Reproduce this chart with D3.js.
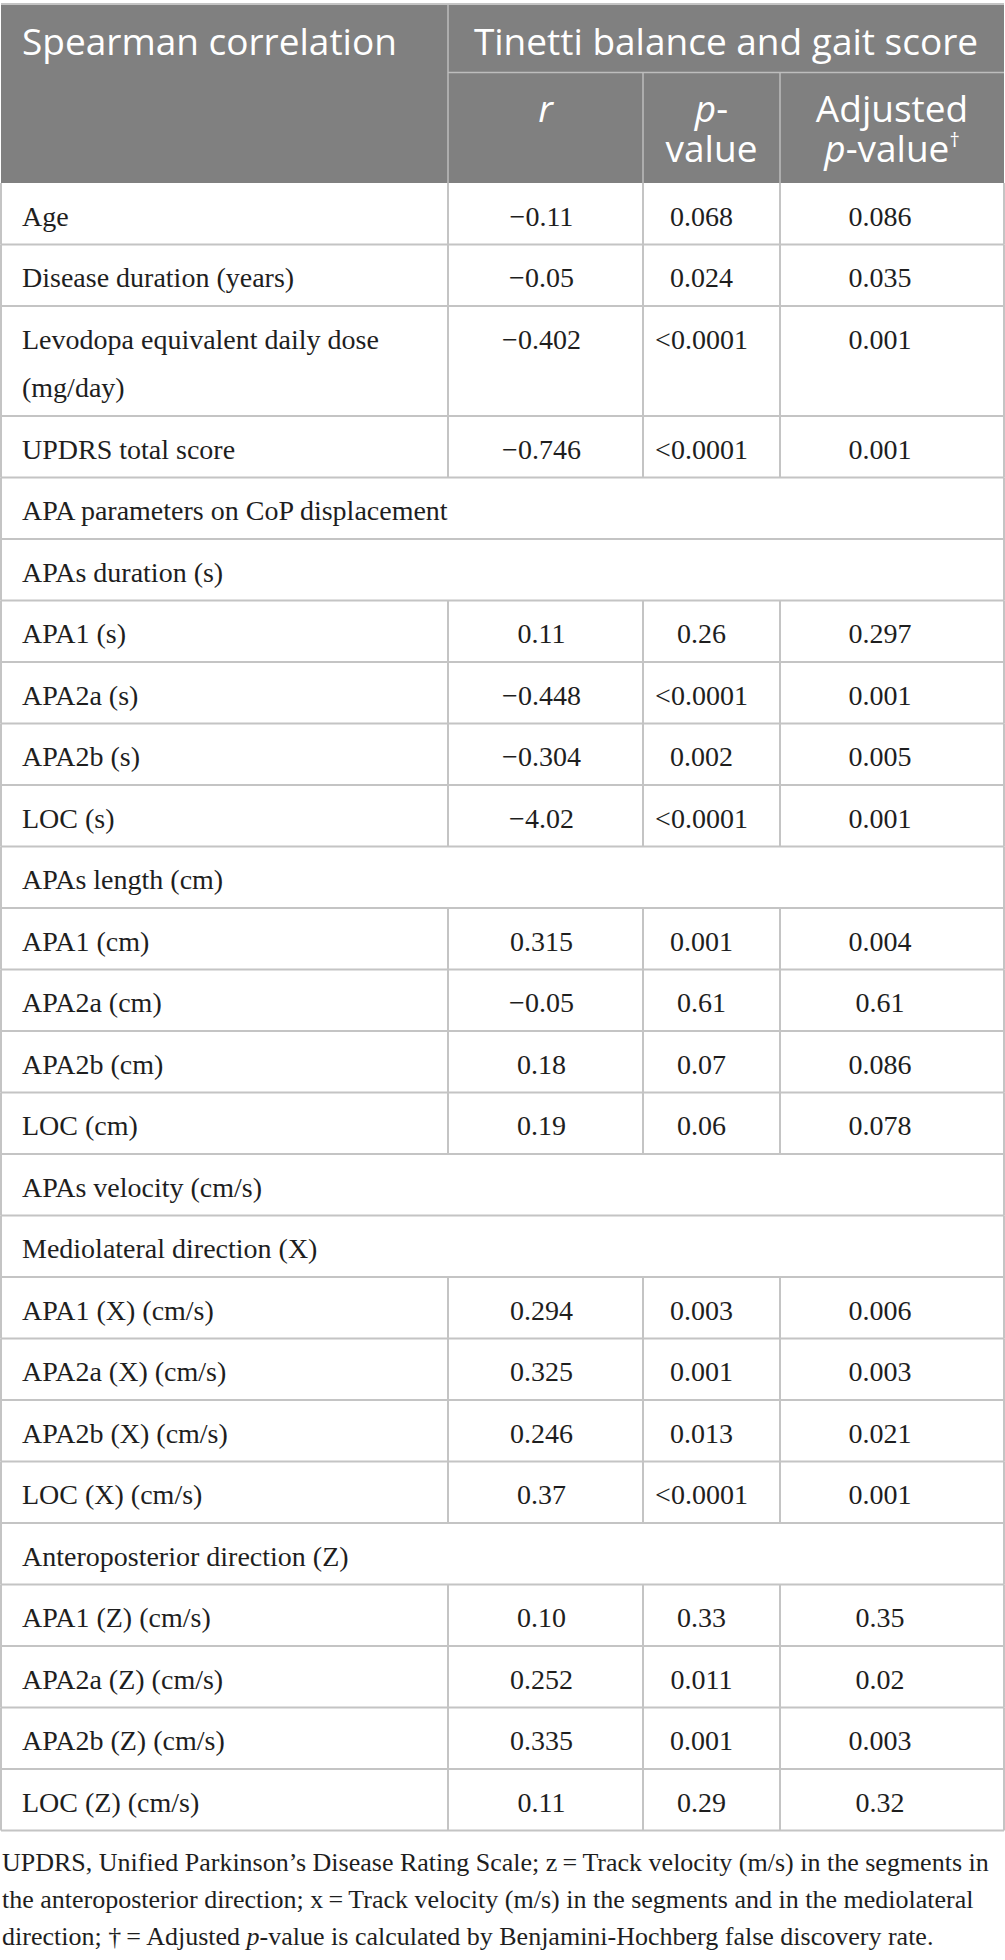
<!DOCTYPE html>
<html>
<head>
<meta charset="utf-8">
<script src="https://cdn.jsdelivr.net/npm/d3@7"></script>
<style>
  html, body { margin: 0; padding: 0; background: #fff; }
  svg { display: block; }
</style>
</head>
<body>
<div id="chart"></div>
<script>
// table content
const headTop = ["Spearman correlation", "Tinetti balance and gait score"];
const headSub = [["_r_"], ["_p_-", "value"], ["Adjusted", "_p_-value^†^"]];

const rowLabels = [
    "Age", "Disease duration (years)", "Levodopa equivalent daily dose (mg/day)", "UPDRS total score",
    "APA parameters on CoP displacement", "APAs duration (s)",
    "APA1 (s)", "APA2a (s)", "APA2b (s)", "LOC (s)",
    "APAs length (cm)",
    "APA1 (cm)", "APA2a (cm)", "APA2b (cm)", "LOC (cm)",
    "APAs velocity (cm/s)", "Mediolateral direction (X)",
    "APA1 (X) (cm/s)", "APA2a (X) (cm/s)", "APA2b (X) (cm/s)", "LOC (X) (cm/s)",
    "Anteroposterior direction (Z)",
    "APA1 (Z) (cm/s)", "APA2a (Z) (cm/s)", "APA2b (Z) (cm/s)", "LOC (Z) (cm/s)"];
// null = section row spanning the whole table
const rValues = [
    "\u22120.11", "\u22120.05", "\u22120.402", "\u22120.746",
    null, null,
    "0.11", "\u22120.448", "\u22120.304", "\u22124.02",
    null,
    "0.315", "\u22120.05", "0.18", "0.19",
    null, null,
    "0.294", "0.325", "0.246", "0.37",
    null,
    "0.10", "0.252", "0.335", "0.11"];
const pValues = [
    "0.068", "0.024", "<0.0001", "<0.0001",
    null, null,
    "0.26", "<0.0001", "0.002", "<0.0001",
    null,
    "0.001", "0.61", "0.07", "0.06",
    null, null,
    "0.003", "0.001", "0.013", "<0.0001",
    null,
    "0.33", "0.011", "0.001", "0.29"];
const adjValues = [
    "0.086", "0.035", "0.001", "0.001",
    null, null,
    "0.297", "0.001", "0.005", "0.001",
    null,
    "0.004", "0.61", "0.086", "0.078",
    null, null,
    "0.006", "0.003", "0.021", "0.001",
    null,
    "0.35", "0.02", "0.003", "0.32"];

const footLines = [
    "UPDRS, Unified Parkinson\u2019s Disease Rating Scale; z\u2009=\u2009Track velocity (m/s) in the segments in",
    "the anteroposterior direction; x\u2009=\u2009Track velocity (m/s) in the segments and in the mediolateral",
    "direction; \u2020\u2009=\u2009Adjusted _p_-value is calculated by Benjamini-Hochberg false discovery rate."];

// layout
const W = 1005, H = 1960;
const colKeys = ["label", "r", "p", "adj"];
const colEdges = [1, 448, 643, 780, 1004];
const valueNudge = [0, -4, -10, -12];
const serif = "'Liberation Serif', 'DejaVu Serif', serif";
const sans = "'Open Sans', 'Noto Sans', sans-serif";
const headFill = "#808080", lineCol = "#c4c4c4", headLine = "#bdbdbd", ink = "#1e1e1e";

const tableTop = 4, headMid = 72.5, headBottom = 183;
const rowBase = 61.5, lineStep = 48.5, firstBase = 42.5, bodySize = 28;

const xLeft = d3.scaleOrdinal().domain(colKeys).range(colEdges.slice(0, 4));
const xRight = d3.scaleOrdinal().domain(colKeys).range(colEdges.slice(1));
const xMid = k => (xLeft(k) + xRight(k)) / 2;

const svg = d3.select("#chart").append("svg")
    .attr("width", W).attr("height", H)
    .attr("viewBox", [0, 0, W, H]);

// write "_italic_" and "^sup^" pieces as tspans
function rich(textSel, str) {
    str.split(/(_[^_]+_|\^[^^]+\^)/).filter(s => s.length).forEach(s => {
        const t = textSel.append("tspan");
        if (s[0] === "_") t.attr("font-style", "italic").text(s.slice(1, -1));
        else if (s[0] === "^") t.attr("font-size", "0.55em").attr("dy", "-0.75em").text(s.slice(1, -1));
        else t.text(s);
    });
}

// wrap labels to the first column
const measure = svg.append("text").attr("font-family", serif).attr("font-size", bodySize);
const labelWidth = colEdges[1] - colEdges[0] - 44;
function wrap(str, full) {
    if (full) return [str];
    const words = str.split(" ");
    const lines = [];
    let cur = "";
    words.forEach(w => {
        const test = cur ? cur + " " + w : w;
        measure.text(test);
        if (cur && measure.node().getComputedTextLength() > labelWidth) {
            lines.push(cur);
            cur = w;
        } else cur = test;
    });
    lines.push(cur);
    return lines;
}

const rows = rowLabels.map((label, i) => {
    const section = rValues[i] === null;
    return {label, section, lines: wrap(label, section), vals: [rValues[i], pValues[i], adjValues[i]]};
});
measure.remove();

const heights = rows.map(d => rowBase + (d.lines.length - 1) * lineStep);
const tops = [headBottom, ...d3.cumsum(heights).map(v => headBottom + v)];
const yTop = d3.scaleOrdinal().domain(d3.range(tops.length)).range(tops);
const tableBottom = yTop(rows.length);

// header
svg.append("rect")
    .attr("x", colEdges[0]).attr("y", tableTop)
    .attr("width", colEdges[4] - colEdges[0]).attr("height", headBottom - tableTop)
    .attr("fill", headFill);

const hl = svg.append("g").attr("stroke", headLine).attr("stroke-width", 1.5);
hl.append("line").attr("x1", xRight("label")).attr("x2", xRight("label")).attr("y1", tableTop).attr("y2", headBottom);
hl.append("line").attr("x1", xLeft("r")).attr("x2", xRight("adj")).attr("y1", headMid).attr("y2", headMid);
["r", "p"].forEach(k => {
    hl.append("line").attr("x1", xRight(k)).attr("x2", xRight(k)).attr("y1", headMid).attr("y2", headBottom);
});

const ht = svg.append("g").attr("font-family", sans).attr("font-size", 37).attr("fill", "#fff");
ht.append("text").attr("x", xLeft("label") + 21).attr("y", tableTop + 51).text(headTop[0]);
ht.append("text").attr("x", (xLeft("r") + xRight("adj")) / 2).attr("y", tableTop + 51)
    .attr("text-anchor", "middle").text(headTop[1]);
headSub.forEach((lines, j) => {
    const k = colKeys[j + 1];
    lines.forEach((ln, li) => {
        const t = ht.append("text").attr("x", xMid(k)).attr("y", headMid + 49.5 + li * 40)
            .attr("text-anchor", "middle");
        rich(t, ln);
    });
});

// body grid
const grid = svg.append("g").attr("stroke", lineCol).attr("stroke-width", 2);
rows.forEach((d, i) => {
    grid.append("line").attr("x1", colEdges[0]).attr("x2", colEdges[4])
        .attr("y1", yTop(i + 1)).attr("y2", yTop(i + 1));
    const edges = d.section ? [colEdges[0], colEdges[4]] : colEdges;
    edges.forEach(x => {
        grid.append("line").attr("x1", x).attr("x2", x).attr("y1", yTop(i)).attr("y2", yTop(i + 1));
    });
});
grid.append("line").attr("x1", colEdges[0]).attr("x2", colEdges[4]).attr("y1", tableTop).attr("y2", tableTop);

// body text
const body = svg.append("g").attr("font-family", serif).attr("font-size", bodySize).attr("fill", ink);
const rowG = body.selectAll("g.row").data(rows).join("g").attr("class", "row")
    .attr("transform", (d, i) => `translate(0,${yTop(i)})`);

rowG.each(function (d) {
    const g = d3.select(this);
    d.lines.forEach((ln, li) => {
        g.append("text").attr("x", xLeft("label") + 21).attr("y", firstBase + li * lineStep).text(ln);
    });
    if (!d.section) {
        d.vals.forEach((v, j) => {
            const k = colKeys[j + 1];
            g.append("text").attr("x", xMid(k) + valueNudge[j + 1]).attr("y", firstBase)
                .attr("text-anchor", "middle").text(v);
        });
    }
});

// footnote
const foot = svg.append("g").attr("font-family", serif).attr("font-size", 26).attr("fill", ink);
footLines.forEach((ln, i) => {
    const t = foot.append("text").attr("x", 2).attr("y", tableBottom + 40 + i * 37);
    rich(t, ln);
});
</script>
</body>
</html>
